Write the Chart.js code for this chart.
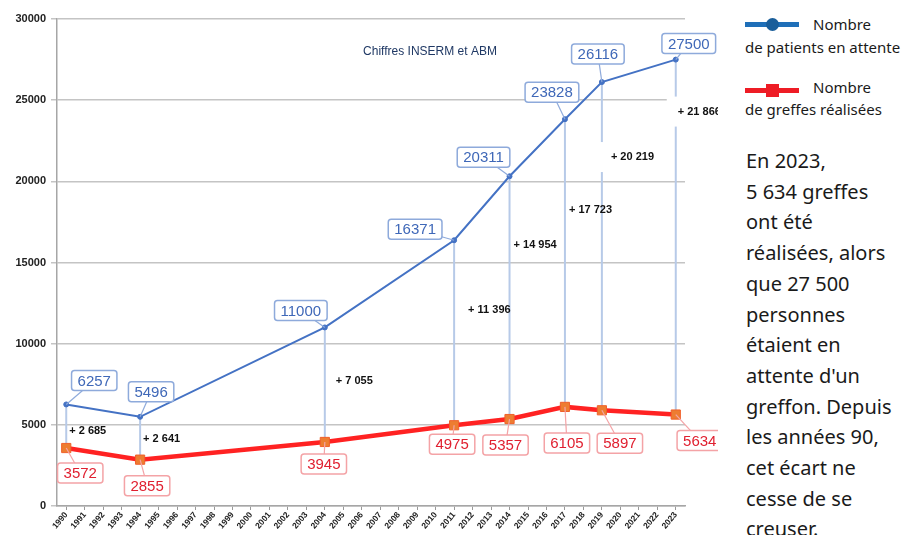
<!DOCTYPE html>
<html>
<head>
<meta charset="utf-8">
<script src="https://cdn.jsdelivr.net/npm/chart.js@4"></script>
<style>
  body { margin: 0; background: #fff; width: 910px; height: 535px; overflow: hidden; position: relative; font-family: 'Noto Sans', sans-serif; color: #1a1a1a; }
  #wrap { position: absolute; left: 0; top: 0; width: 718px; height: 535px; }
  .lg-line { position: absolute; left: 745px; width: 54px; height: 5px; }
  .lg-txt { position: absolute; font-size: 15px; line-height: 20px; white-space: nowrap; }
  #note { position: absolute; left: 746px; top: 146px; width: 170px; font-size: 20px; line-height: 30.7px; }
</style>
</head>
<body>
<div id="wrap"><canvas id="lineChart"></canvas></div>

<div class="lg-line" style="top:22px;background:#1f6fb8"></div>
<div style="position:absolute;left:766px;top:18px;width:13px;height:13px;border-radius:50%;background:#1a5e9a"></div>
<div class="lg-txt" style="left:813px;top:14px">Nombre</div>
<div class="lg-txt" style="left:745px;top:37px">de patients en attente</div>

<div class="lg-line" style="top:88px;background:#ee1c25"></div>
<div style="position:absolute;left:766px;top:84px;width:13px;height:13px;background:#ee1c25"></div>
<div class="lg-txt" style="left:813px;top:77px">Nombre</div>
<div class="lg-txt" style="left:745px;top:99px">de greffes réalisées</div>

<div id="note">En 2023,<br>5 634 greffes<br>ont été<br>réalisées, alors<br>que 27 500<br>personnes<br>étaient en<br>attente d'un<br>greffon. Depuis<br>les années 90,<br>cet écart ne<br>cesse de se<br>creuser.</div>

<script>
document.addEventListener('DOMContentLoaded', function() {
    // données
    const years = ['1990','1991','1992','1993','1994','1995','1996','1997','1998','1999',
                   '2000','2001','2002','2003','2004','2005','2006','2007','2008','2009',
                   '2010','2011','2012','2013','2014','2015','2016','2017','2018','2019',
                   '2020','2021','2022','2023'];
    const pointYears = ['1990','1994','2004','2011','2014','2017','2019','2023'];
    const waiting = [6257, 5496, 11000, 16371, 20311, 23828, 26116, 27500];
    const grafts  = [3572, 2855, 3945, 4975, 5357, 6105, 5897, 5634];
    const yTicks  = [0, 5000, 10000, 15000, 20000, 25000, 30000];

    // décalages des étiquettes (pixels)
    const blueOff = [[28,-24],[11,-25],[-24,-17],[-39,-11],[-26,-19],[-13,-27],[-4,-28],[13,-16]];
    const redOff  = [[14,25],[7,26],[-1,22],[-2,19],[-4,26],[2,36],[18,33],[24,26]];
    const diffOff = [[3,27],[3,22],[11,54],[14,70],[4,69],[4,91],[9,75],[2,52]];
    const diffMask = [false,false,false,false,false,false,true,true];

    const BLUE = '#4472c4';
    const BLUE_TXT = '#3f68b8';
    const BLUE_BORDER = '#8eaadb';
    const RED = '#ff2222';
    const RED_TXT = '#e02030';
    const RED_BORDER = '#f4a3a6';
    const ORANGE = '#ed7d31';
    const DROP = '#b7cae8';
    const GRID = '#c4c4c4';

    const fmt = (n) => String(n).replace(/\B(?=(\d{3})+(?!\d))/g, ' ');

    const box = (ctx, cx, cy, px, py, text, txtColor, border) => {
        ctx.font = '15px "Liberation Sans", Arial, sans-serif';
        const w = ctx.measureText(text).width + 12;
        const h = 20;
        // trait de rappel
        ctx.strokeStyle = border;
        ctx.lineWidth = 1.2;
        ctx.beginPath();
        ctx.moveTo(cx, cy);
        ctx.lineTo(px, py);
        ctx.stroke();
        ctx.fillStyle = '#fff';
        ctx.lineWidth = 1.5;
        ctx.beginPath();
        ctx.roundRect(cx - w / 2, cy - h / 2, w, h, 3);
        ctx.fill();
        ctx.stroke();
        ctx.fillStyle = txtColor;
        ctx.textAlign = 'center';
        ctx.textBaseline = 'middle';
        ctx.fillText(text, cx, cy + 1);
    };

    const annot = {
        id: 'annot',
        beforeDatasetsDraw(chart) {
            const ctx = chart.ctx;
            const a = chart.getDatasetMeta(0).data;
            const b = chart.getDatasetMeta(1).data;
            ctx.save();
            ctx.strokeStyle = DROP;
            ctx.lineWidth = 2;
            a.forEach((p, i) => {
                ctx.beginPath();
                ctx.moveTo(p.x, p.y);
                ctx.lineTo(b[i].x, b[i].y);
                ctx.stroke();
            });
            // écarts
            ctx.font = 'bold 11px "Liberation Sans", Arial, sans-serif';
            ctx.textAlign = 'left';
            ctx.textBaseline = 'middle';
            a.forEach((p, i) => {
                const t = '+ ' + fmt(waiting[i] - grafts[i]);
                const tx = p.x + diffOff[i][0];
                const ty = p.y + diffOff[i][1];
                if (diffMask[i]) {
                    ctx.fillStyle = '#fff';
                    ctx.fillRect(tx - 11, ty - 15, ctx.measureText(t).width + 14, 30);
                }
                ctx.fillStyle = '#111';
                ctx.fillText(t, tx, ty);
            });
            ctx.restore();
        },
        afterDatasetsDraw(chart) {
            const ctx = chart.ctx;
            const a = chart.getDatasetMeta(0).data;
            const b = chart.getDatasetMeta(1).data;
            ctx.save();
            a.forEach((p, i) => {
                box(ctx, p.x + blueOff[i][0], p.y + blueOff[i][1], p.x, p.y, String(waiting[i]), BLUE_TXT, BLUE_BORDER);
            });
            b.forEach((p, i) => {
                box(ctx, p.x + redOff[i][0], p.y + redOff[i][1], p.x, p.y, String(grafts[i]), RED_TXT, RED_BORDER);
            });
            ctx.font = '12px "Liberation Sans", Arial, sans-serif';
            ctx.fillStyle = '#1f3864';
            ctx.textAlign = 'center';
            ctx.textBaseline = 'middle';
            ctx.fillText('Chiffres INSERM et ABM', 430, 52);
            ctx.restore();
        }
    };

    Chart.defaults.font.family = '"Liberation Sans", Arial, sans-serif';
    Chart.defaults.color = '#222';

    new Chart(document.getElementById('lineChart'), {
        type: 'line',
        data: {
            labels: years,
            datasets: [
                {
                    label: 'Nombre de patients en attente',
                    data: pointYears.map((y, i) => ({ x: y, y: waiting[i] })),
                    borderColor: BLUE, backgroundColor: BLUE,
                    borderWidth: 2, pointRadius: 2.5, pointBorderWidth: 1
                },
                {
                    label: 'Nombre de greffes réalisées',
                    data: pointYears.map((y, i) => ({ x: y, y: grafts[i] })),
                    borderColor: RED, backgroundColor: ORANGE,
                    borderWidth: 4.5, pointStyle: 'rect', pointRadius: 6.5,
                    pointBorderColor: '#f0602a', pointBorderWidth: 1
                }
            ]
        },
        options: {
            responsive: true, maintainAspectRatio: false, animation: false,
            layout: { padding: { top: 19, right: 33, left: 0, bottom: 0 } },
            plugins: { legend: { display: false }, tooltip: { enabled: false } },
            scales: {
                x: {
                    type: 'category', offset: true,
                    grid: { drawOnChartArea: false, color: '#999', tickLength: 4 },
                    border: { color: '#a6a6a6', width: 1.5 },
                    ticks: { autoSkip: false, maxRotation: 50, minRotation: 50, padding: 0,
                             font: { size: 8.5, weight: 'bold' } },
                    afterFit: (s) => { s.height = 29; }
                },
                y: {
                    min: 0, max: 30000,
                    afterBuildTicks: (s) => { s.ticks = yTicks.map(v => ({ value: v })); },
                    grid: { color: GRID, lineWidth: 1.5, tickLength: 6 },
                    border: { color: '#a6a6a6', width: 1.5 },
                    ticks: { padding: 5, font: { size: 11, weight: 'bold' },
                             callback: (v) => String(v) },
                    afterFit: (s) => { s.width = 57; }
                }
            }
        },
        plugins: [annot]
    });
});
</script>
</body>
</html>
